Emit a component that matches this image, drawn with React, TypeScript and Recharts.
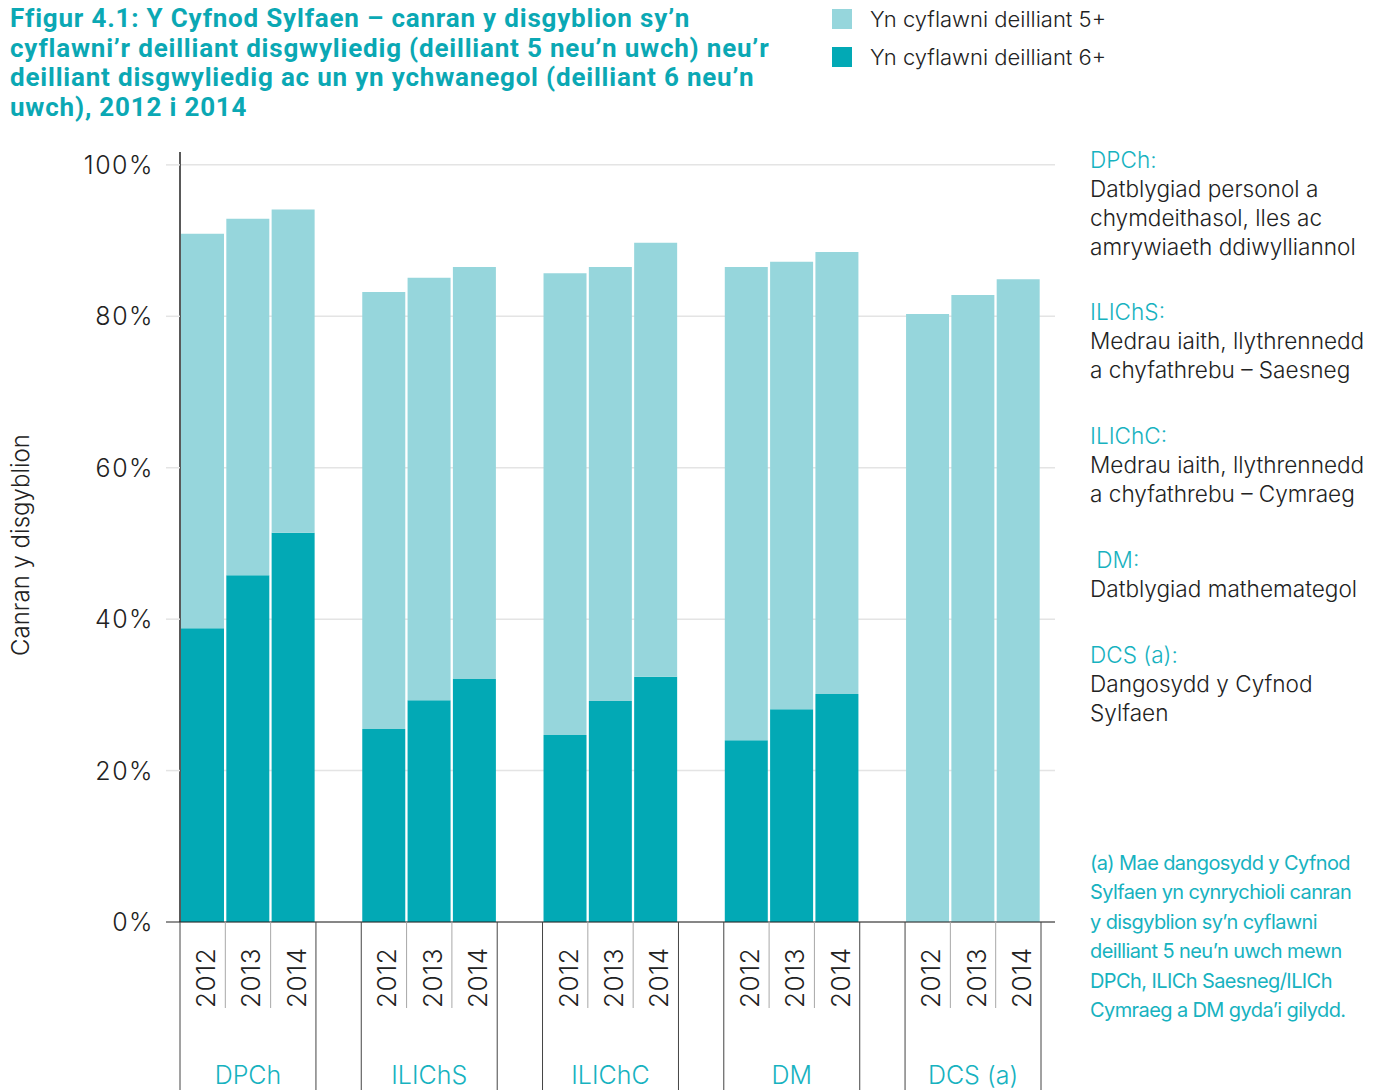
import React from 'react';
import { BarChart, Bar, XAxis, YAxis, CartesianGrid } from 'recharts';

// ---------- data ----------
const groups = ['DPCh', 'ILIChS', 'ILIChC', 'DM', 'DCS (a)'];
const years = ['2012', '2013', '2014'];
// % achieving outcome 5+ (total bar height)
const outcome5 = [
  [90.9, 92.9, 94.1],
  [83.2, 85.1, 86.5],
  [85.7, 86.5, 89.7],
  [86.5, 87.2, 88.5],
  [80.3, 82.8, 84.9],
];
// % achieving outcome 6+ (dark part)
const outcome6 = [
  [38.8, 45.8, 51.4],
  [25.5, 29.3, 32.1],
  [24.7, 29.2, 32.4],
  [24.0, 28.1, 30.1],
  [null, null, null],
];
const yTicks = [0, 20, 40, 60, 80, 100];
const seriesNames = ['Yn cyflawni deilliant 5+', 'Yn cyflawni deilliant 6+'];

const titleLines = [
  'Ffigur 4.1:  Y Cyfnod Sylfaen – canran y disgyblion sy’n',
  'cyflawni’r deilliant disgwyliedig (deilliant 5 neu’n uwch) neu’r',
  'deilliant disgwyliedig ac un yn ychwanegol (deilliant 6 neu’n',
  'uwch), 2012 i 2014',
];
const notes = [
  { head: 'DPCh:', lines: ['Datblygiad personol a', 'chymdeithasol, lles ac', 'amrywiaeth ddiwylliannol'] },
  { head: 'ILIChS:', lines: ['Medrau iaith, llythrennedd', 'a chyfathrebu – Saesneg'] },
  { head: 'ILIChC:', lines: ['Medrau iaith, llythrennedd', 'a chyfathrebu – Cymraeg'] },
  { head: ' DM:', lines: ['Datblygiad mathemategol'] },
  { head: 'DCS (a):', lines: ['Dangosydd y Cyfnod', 'Sylfaen'] },
];
const noteTops = [145, 297, 421, 545, 640];
const footnote = [
  '(a) Mae dangosydd y Cyfnod',
  'Sylfaen yn cynrychioli canran',
  'y disgyblion sy’n cyflawni',
  'deilliant 5 neu’n uwch mewn',
  'DPCh, ILICh Saesneg/ILICh',
  'Cymraeg a DM gyda’i gilydd.',
];

// ---------- build table ----------
type Row = { key: string; group: string | null; year?: string; pos?: number; six?: number; rest?: number };
const rows: Row[] = [];
groups.forEach((g, gi) => {
  if (gi > 0) rows.push({ key: `gap-${gi}`, group: null });
  years.forEach((y, yi) => {
    const five = outcome5[gi][yi];
    const six = outcome6[gi][yi] ?? 0;
    rows.push({ key: `${g}-${y}`, group: g, year: y, pos: yi, six, rest: five - six });
  });
});

// ---------- layout ----------
const W = 1379;
const H = 1090;
const PLOT_LEFT = 180;
const PLOT_RIGHT = 1055;
const PLOT_TOP = 152;
const PLOT_BOTTOM = 922;
const PAD_R = 14;
const BAND = (PLOT_RIGHT - PLOT_LEFT - PAD_R) / rows.length;

const LIGHT = '#96d6dc';
const DARK = '#02a9b5';
const TEAL_TEXT = '#17b2bf';
const INK = '#222222';
const GRID = '#e4e4e4';
const FONT = 'Inter, "Noto Sans", sans-serif';

const XTick = (props: any) => {
  const { x, y, payload } = props;
  const row = rows.find((r) => r.key === payload.value);
  if (!row || !row.group) return null;
  const half = BAND / 2;
  const top = y;
  return (
    <g>
      {row.pos! > 0 && (
        <line x1={x - half} x2={x - half} y1={top} y2={top + 86} stroke="#a8a8a8" strokeWidth={1} />
      )}
      {row.pos === 0 && <line x1={x - half} x2={x - half} y1={top} y2={H} stroke="#444" strokeWidth={1} />}
      {row.pos === 2 && <line x1={x + half} x2={x + half} y1={top} y2={H} stroke="#444" strokeWidth={1} />}
      <text
        transform={`translate(${x + 3},${top + 86}) rotate(-90)`}
        textAnchor="start"
        dominantBaseline="central"
        fontSize={26}
        fontFamily={FONT}
        fontWeight={300}
        letterSpacing={0.5}
        fill={INK}
      >
        {row.year}
      </text>
      {row.pos === 1 && (
        <text x={x} y={H - 6} textAnchor="middle" fontSize={25} fontFamily={FONT} fontWeight={300} fill={TEAL_TEXT}>
          {row.group}
        </text>
      )}
    </g>
  );
};

const YTick = (props: any) => {
  const { x, y, payload } = props;
  const lineStart = x + 12;
  return (
    <g>
      <line
        x1={lineStart}
        x2={lineStart + 14}
        y1={y}
        y2={y}
        stroke={payload.value === 0 ? INK : GRID}
        strokeWidth={payload.value === 0 ? 1 : 1.5}
      />
      <text
        x={x}
        y={y}
        textAnchor="end"
        dominantBaseline="central"
        fontSize={25}
        letterSpacing={1.5}
        fontFamily={FONT}
        fontWeight={300}
        fill={INK}
      >
        {`${payload.value}%`}
      </text>
    </g>
  );
};

export default function App() {
  return (
    <div style={{ position: 'absolute', left: 0, top: 0, width: W, height: H, background: '#fff', overflow: 'hidden' }}>
      <div
        style={{
          position: 'absolute',
          left: 10,
          top: 4,
          fontFamily: 'Roboto, sans-serif',
          fontWeight: 700,
          fontSize: 26,
          lineHeight: '29.5px',
          letterSpacing: 0.8,
          color: '#0ba8b4',
          whiteSpace: 'nowrap',
        }}
      >
        {titleLines.map((l, i) => (
          <div key={i}>{l}</div>
        ))}
      </div>

      <div style={{ position: 'absolute', left: 832, top: 9, fontFamily: FONT }}>
        {[LIGHT, DARK].map((c, i) => (
          <div key={i} style={{ display: 'flex', alignItems: 'center', height: 20, marginBottom: 18 }}>
            <div style={{ width: 20, height: 20, background: c, marginRight: 18 }} />
            <span style={{ fontSize: 22, fontWeight: 300, color: INK, whiteSpace: 'nowrap' }}>{seriesNames[i]}</span>
          </div>
        ))}
      </div>

      <div
        style={{
          position: 'absolute',
          left: 6,
          top: 545,
          transform: 'rotate(-90deg)',
          transformOrigin: '0 0',
        }}
      >
        <div
          style={{
            transform: 'translate(-50%, 0)',
            fontFamily: FONT,
            fontWeight: 300,
            fontSize: 24,
            color: INK,
            whiteSpace: 'nowrap',
          }}
        >
          Canran y disgyblion
        </div>
      </div>

      <BarChart
        width={W}
        height={H}
        data={rows}
        margin={{ top: PLOT_TOP, right: W - PLOT_RIGHT, bottom: 0, left: 0 }}
        barCategoryGap={1}
        style={{ position: 'absolute', left: 0, top: 0 }}
      >
        <CartesianGrid vertical={false} horizontalValues={yTicks} stroke={GRID} strokeWidth={1.5} />
        <XAxis
          dataKey="key"
          height={H - PLOT_BOTTOM}
          interval={0}
          tick={<XTick />}
          tickLine={false}
          tickSize={0}
          tickMargin={0}
          axisLine={{ stroke: INK, strokeWidth: 1 }}
          padding={{ left: 0, right: PAD_R }}
        />
        <YAxis
          width={PLOT_LEFT}
          domain={[0, 101.7]}
          ticks={yTicks}
          allowDataOverflow
          tick={<YTick />}
          tickLine={false}
          tickSize={14}
          tickMargin={12}
          axisLine={{ stroke: INK, strokeWidth: 1.5 }}
        />
        <Bar dataKey="six" stackId="a" fill={DARK} name={seriesNames[1]} isAnimationActive={false} />
        <Bar dataKey="rest" stackId="a" fill={LIGHT} name={seriesNames[0]} isAnimationActive={false} />
      </BarChart>

      {notes.map((n, i) => (
        <div
          key={i}
          style={{
            position: 'absolute',
            left: 1090,
            top: noteTops[i],
            fontFamily: FONT,
            fontWeight: 300,
            fontSize: 22.6,
            lineHeight: '29px',
            color: INK,
            whiteSpace: 'pre',
          }}
        >
          <div style={{ color: TEAL_TEXT }}>{n.head}</div>
          {n.lines.map((l, j) => (
            <div key={j}>{l}</div>
          ))}
        </div>
      ))}

      <div
        style={{
          position: 'absolute',
          left: 1090,
          top: 849,
          fontFamily: FONT,
          fontWeight: 400,
          fontSize: 20,
          lineHeight: '29.4px',
          letterSpacing: -0.6,
          color: TEAL_TEXT,
          whiteSpace: 'nowrap',
        }}
      >
        {footnote.map((l, i) => (
          <div key={i}>{l}</div>
        ))}
      </div>
    </div>
  );
}
